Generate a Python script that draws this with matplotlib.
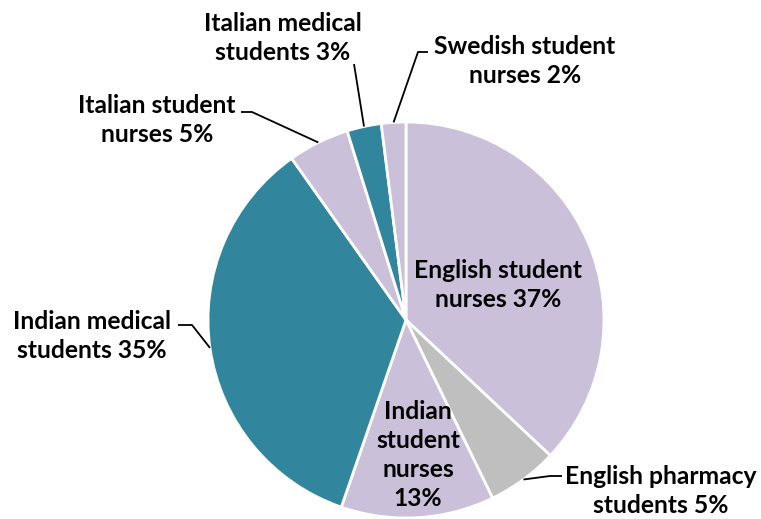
import numpy as np
import matplotlib
matplotlib.use("Agg")
import matplotlib.pyplot as plt

categories = ["English student\nnurses", "English pharmacy\nstudents", "Indian\nstudent\nnurses",
              "Indian medical\nstudents", "Italian student\nnurses", "Italian medical\nstudents",
              "Swedish student\nnurses"]
values = [37.0, 5.8, 12.5, 34.9, 5.0, 2.8, 2.0]
pct_labels = ["37%", "5%", "13%", "35%", "5%", "3%", "2%"]

LAV = "#CBC0DA"
TEAL = "#31859C"
GREY = "#BFBFBF"
colors = [LAV, GREY, LAV, TEAL, LAV, TEAL, LAV]
explode = [0, 0.07, 0, 0, 0, 0, 0]

W, H = 761, 519
fig = plt.figure(figsize=(W / 100, H / 100), dpi=100)
ax = fig.add_axes([0, 0, 1, 1])

cx, cy, R = 406, H - 320, 198
wedges, _ = ax.pie(values, colors=colors, explode=explode, startangle=90, counterclock=False,
                   center=(cx, cy), radius=R, frame=True,
                   wedgeprops=dict(edgecolor="white", linewidth=2))
ax.set_xlim(0, W)
ax.set_ylim(0, H)
ax.set_aspect("equal")
ax.axis("off")

font = dict(family="Lato", weight="bold", fontsize=17.7, color="black", linespacing=1.3)

# label placements (pixel coords, y from top)
lab = {
    0: (498, 285),
    1: (661, 491),
    2: (418, 455),
    3: (92, 336),
    4: (157, 120),
    5: (283, 38),
    6: (525, 61),
}
for i, (x, y) in lab.items():
    s = categories[i] + (" " if i != 2 else "\n") + pct_labels[i]
    ax.text(x, H - y, s, ha="center", va="center", **font)

# leader lines: elbow/end points in pixel coords from top
leaders = {
    1: [(550, 476), (562, 476)],
    3: [(192, 325), (178, 325)],
    4: [(252, 112), (241, 112)],
    5: [(354, 64)],
    6: [(418, 52), (428, 52)],
}
for i, pts in leaders.items():
    w = wedges[i]
    mid = np.deg2rad((w.theta1 + w.theta2) / 2)
    wcx, wcy = w.center
    sx = wcx + w.r * np.cos(mid)
    sy = wcy + w.r * np.sin(mid)
    xs = [sx] + [p[0] for p in pts]
    ys = [sy] + [H - p[1] for p in pts]
    ax.plot(xs, ys, color="black", lw=1.3, solid_capstyle="butt")

fig.savefig("out.png", dpi=100, facecolor="white")
